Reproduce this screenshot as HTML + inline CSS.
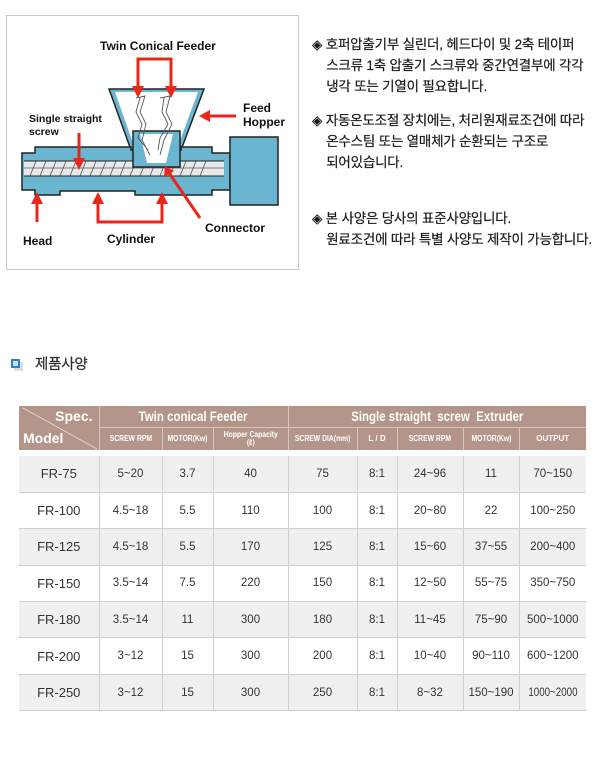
<!DOCTYPE html>
<html><head><meta charset="utf-8">
<style>
*{margin:0;padding:0;box-sizing:border-box}
body{width:604px;height:762px;background:#fff;position:relative;overflow:hidden;font-family:"Liberation Sans","Noto Sans CJK KR",sans-serif}
.kr{position:absolute;font-size:13.5px;color:#1a1a1a;line-height:21px;white-space:nowrap;letter-spacing:-0.2px;font-family:"Liberation Sans","Noto Sans CJK KR",sans-serif;-webkit-text-stroke:0.2px #1a1a1a}
table{position:absolute;left:19px;top:406px;border-collapse:collapse;font-family:"Liberation Sans",sans-serif;table-layout:fixed}
td{text-align:center;font-size:11.5px;color:#333;border-left:1px solid #cdd0da;height:36.4px;padding:0;white-space:nowrap;overflow:hidden}
td span,th span.n{display:inline-block;transform:scaleX(.85)}
tr.b td{background:#f0f0f0}
tr td:first-child{border-left:none;font-size:13px}
tr.r td{border-bottom:1px solid #cdd0da}
th{background:#b3958a;color:#fff;font-weight:bold;border-left:1px solid #d8c6be;padding:0;white-space:nowrap;overflow:hidden}
th.s{font-size:8px;height:23px;border-top:1px solid #d8c6be}
th.h{font-size:13.5px;height:21px}
</style></head><body>
<svg style="position:absolute;left:0;top:0" width="300" height="275">
<rect x="6.5" y="15.5" width="292" height="254" fill="#fff" stroke="#c8c8c8"/>
<g font-family="Liberation Sans, sans-serif" font-weight="bold" font-size="12" fill="#111">
<text x="100" y="50">Twin Conical Feeder</text>
<text x="243" y="112">Feed</text><text x="243" y="126">Hopper</text>
<text x="29" y="122" font-size="10.5">Single straight</text><text x="29" y="135" font-size="10.5">screw</text>
<text x="23" y="245">Head</text>
<text x="107" y="243">Cylinder</text>
<text x="205" y="232">Connector</text>
</g>
<path d="M109,89 L204,89 L181,150 L131,150 Z" fill="#6ab5cf" stroke="#222" stroke-width="1.5"/>
<path d="M115,92 L198,92 L178,146 L134,146 Z" fill="#fff"/>
<path d="M22,153 L35,153 L35,147 L131,147 L131,150 L181,150 L181,147 L212,147 L212,153 L230,153 L230,190 L212,190 L212,195 L135,195 L135,191 L60,191 L60,195 L35,195 L35,190 L22,190 Z" fill="#6ab5cf" stroke="#222" stroke-width="1.5"/>
<rect x="24" y="161" width="200" height="15" fill="#e8e8e8"/>
<g stroke="#555" stroke-width="0.8">
<path d="M30,176 L36,161 M40,176 L46,161 M50,176 L56,161 M60,176 L66,161 M70,176 L76,161 M80,176 L86,161 M90,176 L96,161 M100,176 L106,161 M110,176 L116,161 M120,176 L126,161 M130,176 L136,161 M140,176 L146,161 M150,176 L156,161 M160,176 L166,161 M170,176 L176,161 M180,176 L186,161 M190,176 L196,161 M200,176 L206,161 M24,168 L224,168"/>
</g>
<line x1="24" y1="161" x2="224" y2="161" stroke="#222"/><line x1="24" y1="176" x2="224" y2="176" stroke="#222"/>
<rect x="230" y="137" width="48" height="68" fill="#6ab5cf" stroke="#222" stroke-width="1.5"/>
<rect x="133" y="131" width="47" height="36" fill="#6ab5cf" stroke="#222" stroke-width="1.5"/>
<path d="M140,134 L173,134 L166,163 L147,163 Z" fill="#fff"/>
<g stroke="#555" fill="none" stroke-width="0.9">
<path d="M136,98 L145,96 L140,112 L146,124 L142,140 L150,155 M140,98 L136,112 L142,124 L138,138 L148,150"/>
<path d="M160,98 L170,96 L166,112 L172,124 L164,140 L160,155 M164,98 L162,112 L168,124 L160,138 L158,150"/>
</g>
<g stroke="#e8261a" stroke-width="3" fill="none">
<path d="M138,92 L138,59 L171,59 L171,92"/>
<path d="M236,116 L206,116"/>
<path d="M79,133 L79,162"/>
<path d="M37,222 L37,200"/>
<path d="M98,200 L98,222 L162,222 L162,200"/>
<path d="M200,218 L169,173"/>
</g>
<g fill="#e8261a">
<path d="M132,86 L144,86 L138,98 Z"/><path d="M165,86 L177,86 L171,98 Z"/>
<path d="M210,110 L210,122 L199,116 Z"/>
<path d="M73,158 L85,158 L79,170 Z"/>
<path d="M31,204 L43,204 L37,192 Z"/>
<path d="M92,204 L104,204 L98,192 Z"/><path d="M156,204 L168,204 L162,192 Z"/>
<path d="M164,177 L174,171 L165,166 Z"/>
</g>
</svg>

<div class="kr" style="left:312px;top:34px">◈ 호퍼압출기부 실린더, 헤드다이 및 2축 테이퍼<br>&nbsp;&nbsp;&nbsp;&nbsp;스크류 1축 압출기 스크류와 중간연결부에 각각<br>&nbsp;&nbsp;&nbsp;&nbsp;냉각 또는 기열이 필요합니다.</div>
<div class="kr" style="left:312px;top:110px">◈ 자동온도조절 장치에는, 처리원재료조건에 따라<br>&nbsp;&nbsp;&nbsp;&nbsp;온수스팀 또는 열매체가 순환되는 구조로<br>&nbsp;&nbsp;&nbsp;&nbsp;되어있습니다.</div>
<div class="kr" style="left:312px;top:208px">◈ 본 사양은 당사의 표준사양입니다.<br>&nbsp;&nbsp;&nbsp;&nbsp;원료조건에 따라 특별 사양도 제작이 가능합니다.</div>

<div style="position:absolute;left:14px;top:362px;width:9px;height:9px;background:#ddd"></div>
<div style="position:absolute;left:11px;top:359px;width:9px;height:9px;border:2px solid #2a7fd0;background:#cfe3f6"></div>
<div class="kr" style="left:35px;top:355px;font-size:14.5px;color:#333">제품사양</div>

<table>
<colgroup><col style="width:80px"><col style="width:63px"><col style="width:51px"><col style="width:75px"><col style="width:69px"><col style="width:40px"><col style="width:66px"><col style="width:56px"><col style="width:67px"></colgroup>
<tr><th rowspan="2" style="border-left:none;position:relative;height:44px;font-size:14px">
<svg style="position:absolute;left:0;top:0" width="80" height="44"><line x1="4" y1="2" x2="78" y2="43" stroke="#e6d8d2" stroke-width="1"/></svg>
<span style="position:absolute;right:6px;top:2px">Spec.</span><span style="position:absolute;left:4px;top:24px">Model</span></th>
<th class="h" colspan="3"><span class="n">Twin conical Feeder</span></th><th class="h" colspan="5"><span class="n">Single straight &nbsp;screw &nbsp;Extruder</span></th></tr>
<tr><th class="s"><span class="n">SCREW RPM</span></th><th class="s"><span class="n">MOTOR(Kw)</span></th><th class="s" style="line-height:8px"><span class="n">Hopper Capacity<br>(ℓ)</span></th><th class="s"><span class="n">SCREW DIA(mm)</span></th><th class="s">L / D</th><th class="s"><span class="n">SCREW RPM</span></th><th class="s"><span class="n">MOTOR(Kw)</span></th><th class="s">OUTPUT</th></tr>
<tr><td colspan="9" style="height:6px;border:none"></td></tr>
<tr class="b r"><td>FR-75</td><td>5~20</td><td>3.7</td><td>40</td><td>75</td><td>8:1</td><td>24~96</td><td>11</td><td>70~150</td></tr>
<tr class="r"><td>FR-100</td><td>4.5~18</td><td>5.5</td><td>110</td><td>100</td><td>8:1</td><td>20~80</td><td>22</td><td>100~250</td></tr>
<tr class="b r"><td>FR-125</td><td>4.5~18</td><td>5.5</td><td>170</td><td>125</td><td>8:1</td><td>15~60</td><td>37~55</td><td>200~400</td></tr>
<tr class="r"><td>FR-150</td><td>3.5~14</td><td>7.5</td><td>220</td><td>150</td><td>8:1</td><td>12~50</td><td>55~75</td><td>350~750</td></tr>
<tr class="b r"><td>FR-180</td><td>3.5~14</td><td>11</td><td>300</td><td>180</td><td>8:1</td><td>11~45</td><td>75~90</td><td>500~1000</td></tr>
<tr class="r"><td>FR-200</td><td>3~12</td><td>15</td><td>300</td><td>200</td><td>8:1</td><td>10~40</td><td>90~110</td><td>600~1200</td></tr>
<tr class="b r"><td>FR-250</td><td>3~12</td><td>15</td><td>300</td><td>250</td><td>8:1</td><td>8~32</td><td>150~190</td><td><span>1000~2000</span></td></tr>
</table>
</body></html>
